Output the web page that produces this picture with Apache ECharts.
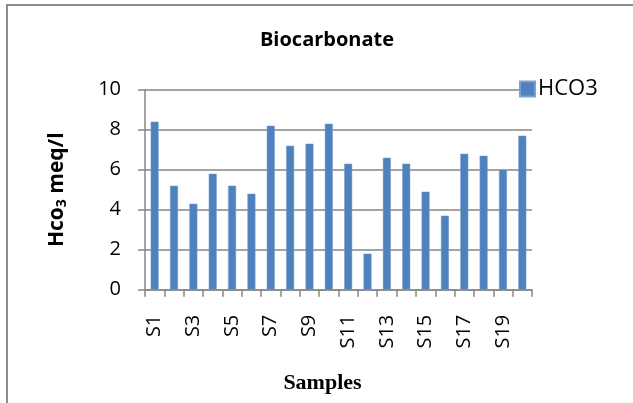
<!DOCTYPE html>
<html>
<head>
<meta charset="utf-8">
<script src="https://cdn.jsdelivr.net/npm/echarts@6/dist/echarts.min.js"></script>
<style>
  html, body { margin: 0; padding: 0; background: #fff; }
  #chart { width: 633px; height: 403px; }
</style>
</head>
<body>
<div id="chart"></div>
<script>
// Bicarbonate concentration per sample (meq/l)
const samples = ['S1','S2','S3','S4','S5','S6','S7','S8','S9','S10',
                 'S11','S12','S13','S14','S15','S16','S17','S18','S19','S20'];
const hco3 = [8.4, 5.2, 4.3, 5.8, 5.2, 4.8, 8.2, 7.2, 7.3, 8.3,
              6.3, 1.8, 6.6, 6.3, 4.9, 3.7, 6.8, 6.7, 6.0, 7.7];
const yTicks = { min: 0, max: 10, step: 2 };

const chart = echarts.init(document.getElementById('chart'), null, { renderer: 'canvas' });
const axisGray = '#868686';

chart.setOption({
  animation: false,
  backgroundColor: '#fff',
  graphic: [{
    // frame around the chart area
    type: 'rect',
    shape: { x: 7, y: 5, width: 640, height: 410 },
    style: { fill: 'none', stroke: '#8c8c8c', lineWidth: 2 },
    silent: true
  }],
  title: {
    text: 'Biocarbonate',
    left: 322, top: 25, textAlign: 'center',
    textStyle: { fontFamily: 'Open Sans', fontWeight: 'bold', fontSize: 20, color: '#000' }
  },
  legend: {
    data: ['HCO3'],
    left: 514, top: 73,
    itemWidth: 15, itemHeight: 15, itemGap: 4,
    icon: 'rect',
    textStyle: { fontFamily: 'Open Sans', fontSize: 22, color: '#000', padding: [0, 0, 0, -2] }
  },
  grid: { left: 145, right: 101, top: 89.7, bottom: 113.3 },
  xAxis: {
    type: 'category',
    data: samples,
    name: 'Samples',
    nameLocation: 'middle',
    nameGap: 83,
    nameTextStyle: {
      fontFamily: 'Liberation Serif', fontWeight: 'bold', fontSize: 22, color: '#000',
      padding: [0, 32, 0, 0]
    },
    axisLine: { lineStyle: { color: axisGray, width: 1.5 } },
    axisTick: { show: true, interval: 0, length: 7, lineStyle: { color: axisGray, width: 1.5 } },
    axisLabel: {
      interval: 1, rotate: 90, margin: 25,
      fontFamily: 'Open Sans', fontSize: 20, color: '#000'
    }
  },
  yAxis: {
    type: 'value',
    min: yTicks.min, max: yTicks.max, interval: yTicks.step,
    name: '{b|Hco}{s|3}{b| meq/l}',
    nameLocation: 'middle',
    nameRotate: 90,
    nameGap: 76,
    nameTextStyle: {
      rich: {
        b: { fontFamily: 'Open Sans', fontWeight: 'bold', fontSize: 21, color: '#000' },
        s: { fontFamily: 'Open Sans', fontWeight: 'bold', fontSize: 14, color: '#000', verticalAlign: 'bottom', padding: [10, 0, 0, 0] }
      }
    },
    axisLine: { show: true, lineStyle: { color: axisGray, width: 1.5 } },
    axisTick: { show: true, length: 7, lineStyle: { color: axisGray, width: 1.5 } },
    splitLine: { lineStyle: { color: axisGray, width: 1.5 } },
    axisLabel: { margin: 24, fontFamily: 'Open Sans', fontSize: 20, color: '#000' }
  },
  series: [{
    name: 'HCO3',
    type: 'bar',
    data: hco3,
    barWidth: 8,
    itemStyle: { color: '#4f81bd', borderColor: '#7ea0cf', borderWidth: 0.5 }
  }]
});
</script>
</body>
</html>
